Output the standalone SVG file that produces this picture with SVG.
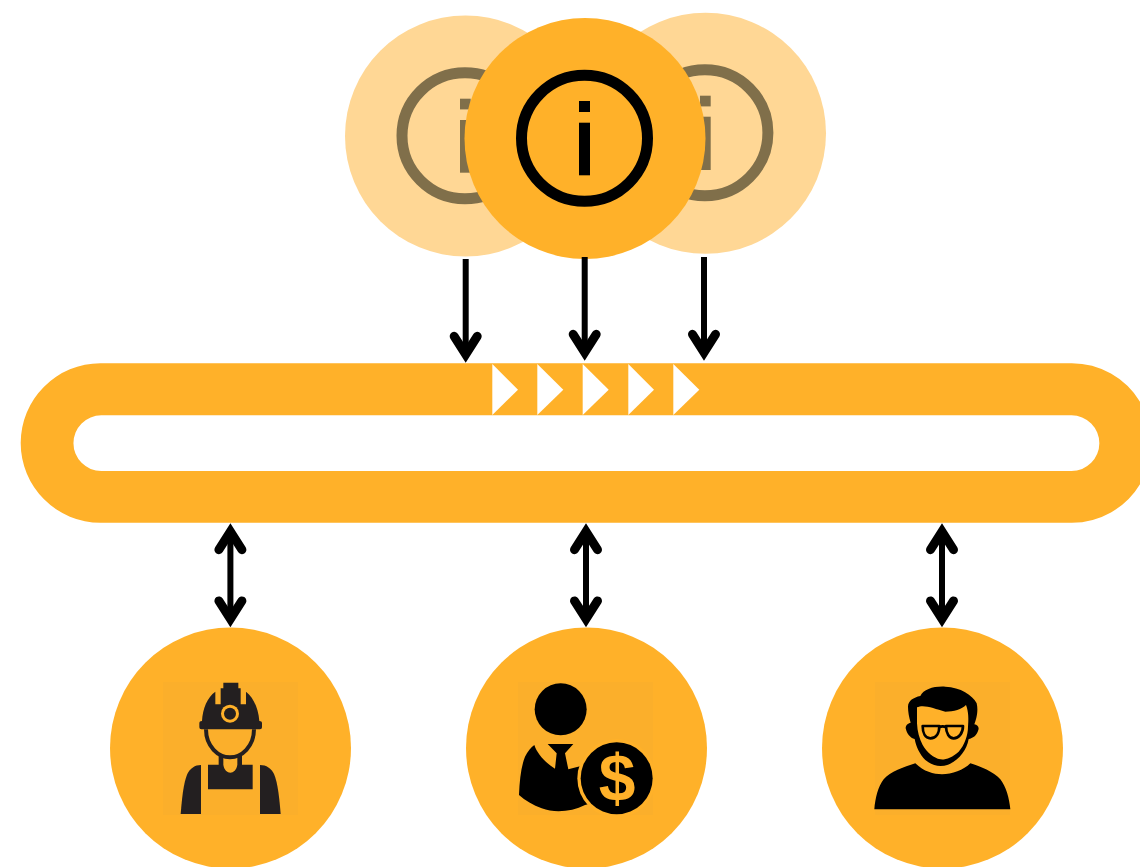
<svg xmlns="http://www.w3.org/2000/svg" width="1140" height="867" viewBox="0 0 1140 867">
<style>
.o{fill:#FFB129}
.l{fill:#FFD795}
.bg{fill:#FBAF2B}
.dim{fill:#806F4A}
.dimr{fill:none;stroke:#806F4A;stroke-width:11}
.k{fill:#000}
.kr{fill:none;stroke:#000;stroke-width:11}
.dk{fill:#231F20}
.w{fill:#fff}
.c1{fill:none;stroke:#000;stroke-width:6}
.gl{fill:none;stroke:#000;stroke-width:8;stroke-linejoin:round}
.hd{fill:none;stroke:#000;stroke-width:9;stroke-linecap:round;stroke-linejoin:miter;stroke-miterlimit:8}
.dollar{font-family:"Liberation Sans",Arial,sans-serif;font-weight:700;font-size:66px;fill:#FFB129;text-anchor:middle}
</style>
<defs>
<marker id="head" markerUnits="userSpaceOnUse" markerWidth="60" markerHeight="60" viewBox="-30 -30 60 60" refX="0" refY="0" orient="auto-start-reverse"><path class="hd" d="M-18,-11.5L0,0L-18,11.5"/></marker>
</defs>
<g id="info-left">
<circle class="l" cx="465.5" cy="136" r="120.5"/>
<circle class="dimr" cx="465" cy="135.8" r="63"/>
<rect class="dim" x="460" y="98.7" width="10.7" height="10.7"/>
<rect class="dim" x="460" y="120" width="10.7" height="52.7"/>
</g>
<g id="info-right">
<circle class="l" cx="705.5" cy="133.3" r="120.5"/>
<circle class="dimr" cx="704.9" cy="132.8" r="63"/>
<rect class="dim" x="700" y="95.7" width="10.7" height="10.7"/>
<rect class="dim" x="700" y="116.7" width="10.7" height="53.3"/>
</g>
<g id="info-center">
<circle class="o" cx="585" cy="138.5" r="120.5"/>
<circle class="kr" cx="584.5" cy="138.3" r="63"/>
<rect class="k" x="579" y="101" width="11" height="11"/>
<rect class="k" x="579" y="122.7" width="11" height="52.6"/>
</g>
<g id="band">
<path class="o" fill-rule="evenodd" d="M100.4,363.3H1071.8A79.7,79.7 0 0 1 1140,401.8V484.2A79.7,79.7 0 0 1 1071.8,522.7H100.4A79.7,79.7 0 0 1 100.4,363.3ZM101.3,415.3A27.85,27.85 0 0 0 101.3,471H1071.5A27.85,27.85 0 0 0 1071.5,415.3Z"/>
<path class="w" d="M492.3,364V415L518,389.7Z"/>
<path class="w" d="M537.3,364V415L563.3,389.7Z"/>
<path class="w" d="M582.7,364V415L608.7,389.7Z"/>
<path class="w" d="M628.3,364V415L654,389.7Z"/>
<path class="w" d="M673.3,364V415L699.3,389.7Z"/>
</g>
<g id="connectors">
<path class="c1" d="M465.7,259V354.3" marker-end="url(#head)"/>
<path class="c1" d="M584.7,257V352.3" marker-end="url(#head)"/>
<path class="c1" d="M704,257V352.3" marker-end="url(#head)"/>
<path class="c1" d="M230.4,531.7V618.9" marker-start="url(#head)" marker-end="url(#head)"/>
<path class="c1" d="M586,531.7V618.9" marker-start="url(#head)" marker-end="url(#head)"/>
<path class="c1" d="M942,531.7V618.9" marker-start="url(#head)" marker-end="url(#head)"/>
</g>
<g id="worker">
<circle class="o" cx="230.5" cy="748" r="120.5"/>
<rect class="bg" x="163" y="682" width="135" height="133"/>
<g transform="translate(150,670) scale(.33333)">
<path class="dk" d="M148,160Q148,153 156,153C158,115 172,82 196,65V103H212V55H220V38H265V55H272V103H288V65C310,82 325,115 328,153Q336,153 336,160V172Q336,178 330,178H154Q148,178 148,172Z"/>
<circle class="o" cx="240" cy="131" r="27"/>
<circle class="dk" cx="240" cy="131" r="18"/>
<path fill="none" stroke="#231F20" stroke-width="12" d="M168,178C168,230 205,262 240,262C275,262 312,230 312,178"/>
<path class="dk" d="M206,255H220V284C222,300 232,308 241,308C250,308 260,300 262,284V255H276V284H308V358H174V284H206Z"/>
<path class="dk" d="M153,285V432H92C96,385 100,340 112,312C120,295 135,285 153,285Z"/>
<path class="dk" d="M330,285V432H392C388,385 384,340 372,312C364,295 349,285 330,285Z"/>
</g>
</g>
<g id="investor">
<circle class="o" cx="586.5" cy="748" r="120.5"/>
<rect class="bg" x="518" y="682" width="135" height="133"/>
<g transform="translate(505,670) scale(.33333)">
<circle class="k" cx="167" cy="118" r="78"/>
<path class="k" d="M88,225C96,250 120,278 150,296L155,250L128,222H205L180,250L190,298L260,280V400L240,405C200,425 150,430 110,415C85,405 60,392 42,375C44,330 48,290 60,260C68,245 78,232 88,225Z"/>
<circle class="o" cx="335" cy="325" r="118"/>
<circle class="k" cx="335" cy="325" r="108"/>
</g>
<text class="dollar" x="617" y="801">$</text>
</g>
<g id="engineer">
<circle class="o" cx="942.5" cy="748" r="120.5"/>
<rect class="bg" x="875" y="682" width="135" height="133"/>
<g transform="translate(862,670) scale(.33333)">
<path class="k" d="M138,110C138,92 155,82 175,78C185,58 215,48 250,50C295,52 332,75 344,100C350,125 342,150 337,163C347,165 352,172 349,180C344,197 332,205 320,207C314,240 292,270 258,284C235,292 212,288 190,270C172,252 162,228 158,207C145,205 134,190 131,175C131,165 138,160 146,158C141,140 138,125 138,110Z"/>
<path class="o" d="M165,112C185,102 215,115 250,125C275,125 300,118 312,105C320,125 320,150 318,170C318,195 308,225 290,245C272,262 250,270 235,268C215,264 195,248 182,225C172,205 166,185 165,160Z"/>
<path class="gl" d="M182,168H232C232,190 222,205 205,205C190,205 182,190 182,168ZM252,168H303C303,190 290,205 275,205C262,205 252,190 252,168ZM232,172Q242,166 252,172"/>
<path class="k" d="M160,280C185,305 215,313 240,313C270,313 305,300 325,280C355,290 395,305 415,328C432,350 442,385 445,418H37C40,385 48,350 65,328C85,305 125,292 160,280Z"/>
</g>
</g>
</svg>
